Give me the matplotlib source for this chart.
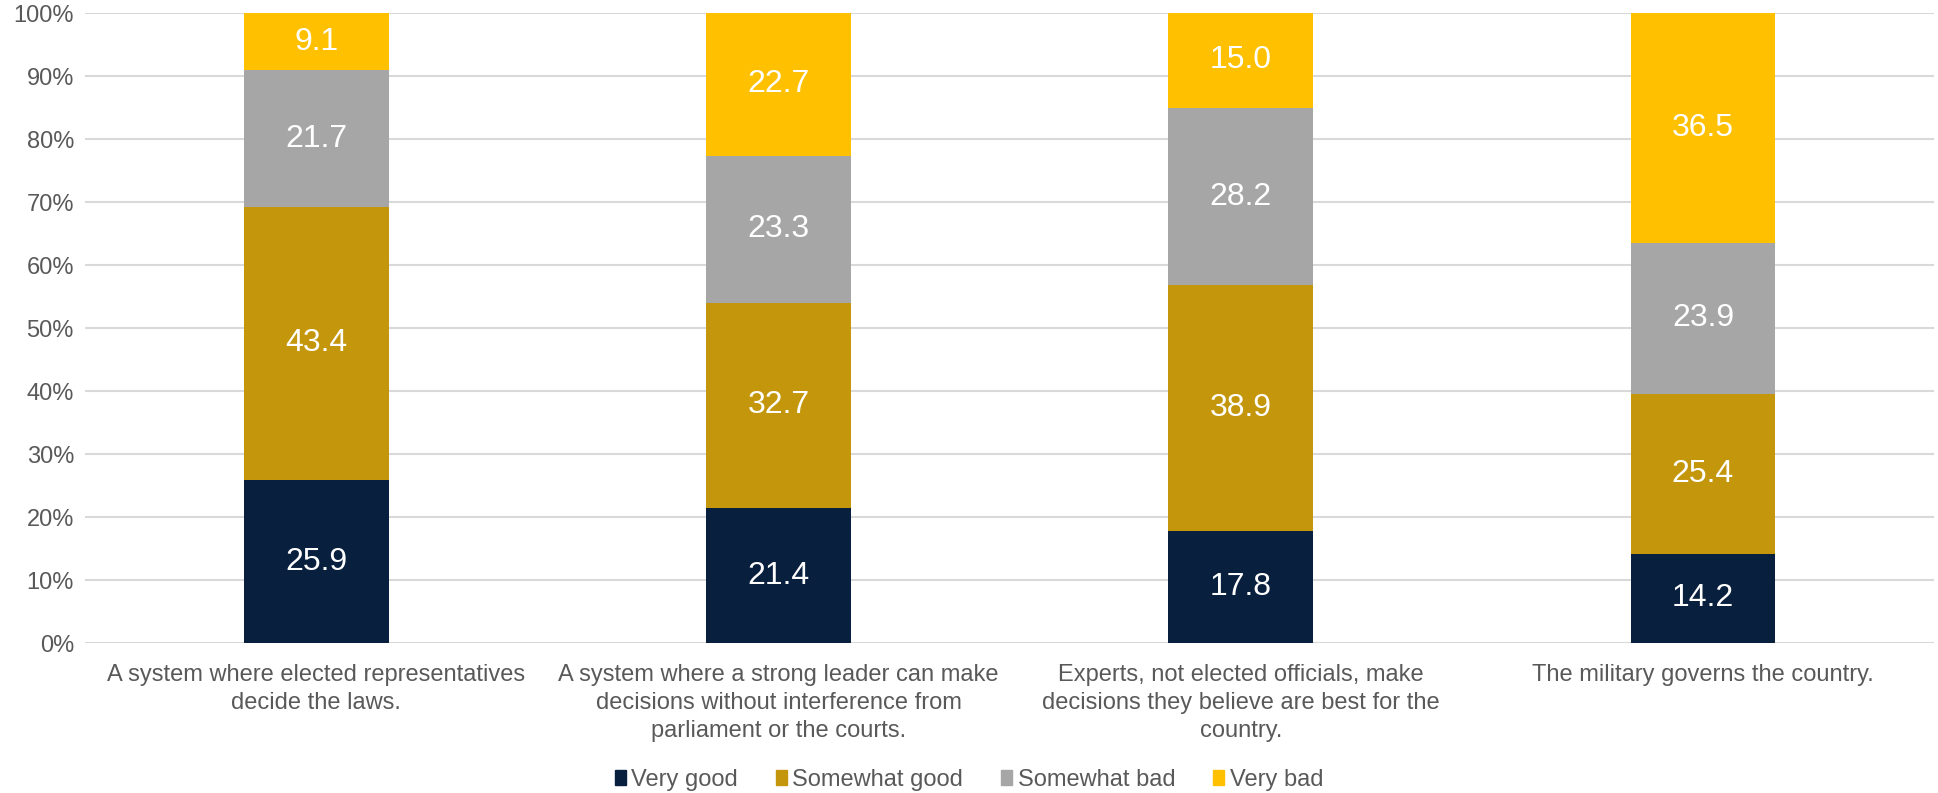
import numpy as np
import matplotlib.pyplot as plt
from matplotlib.patches import Patch

plt.rcParams["font.family"] = ["Liberation Sans", "DejaVu Sans"]

categories = [
    "A system where elected representatives\ndecide the laws.",
    "A system where a strong leader can make\ndecisions without interference from\nparliament or the courts.",
    "Experts, not elected officials, make\ndecisions they believe are best for the\ncountry.",
    "The military governs the country.",
]
series_names = ["Very good", "Somewhat good", "Somewhat bad", "Very bad"]
very_good = [25.9, 21.4, 17.8, 14.2]
somewhat_good = [43.4, 32.7, 38.9, 25.4]
somewhat_bad = [21.7, 23.3, 28.2, 23.9]
very_bad = [9.1, 22.7, 15.0, 36.5]
colors = ["#091F3E", "#C4960C", "#A6A6A6", "#FFC000"]
text_grey = "#595959"


def main():
    values = np.array([very_good, somewhat_good, somewhat_bad, very_bad])
    # 100% stacked: normalise each column
    shares = values / values.sum(axis=0) * 100

    fig = plt.figure(figsize=(19.38, 7.93), dpi=100)
    ax = fig.add_axes([0.0439, 0.189, 0.9541, 0.7946])

    x = np.arange(len(categories))
    bottom = np.zeros(len(categories))
    for i, name in enumerate(series_names):
        ax.bar(x, shares[i], bottom=bottom, width=0.313, color=colors[i],
               label=name, zorder=3)
        for xi, b, h, v in zip(x, bottom, shares[i], values[i]):
            ax.text(xi, b + h / 2, f"{v:.1f}", ha="center", va="center",
                    color="white", fontsize=23, zorder=4)
        bottom += shares[i]

    ax.set_xlim(-0.5, len(categories) - 0.5)
    ax.set_ylim(0, 100)
    ax.set_yticks(np.arange(0, 101, 10))
    ax.set_yticklabels([f"{t}%" for t in range(0, 101, 10)])
    ax.set_xticks(x)
    ax.set_xticklabels(categories, linespacing=1.35)
    ax.tick_params(axis="both", length=0, labelsize=17, colors=text_grey)
    ax.tick_params(axis="x", pad=15)
    ax.tick_params(axis="y", pad=8)
    ax.grid(axis="y", color="#D9D9D9", linewidth=1.5, zorder=0)
    for s in ax.spines.values():
        s.set_visible(False)

    handles = [Patch(color=c) for c in colors]
    leg = fig.legend(handles, series_names, loc="center", ncol=4,
                     bbox_to_anchor=(0.5, 0.016), frameon=False, fontsize=17,
                     handlelength=0.45, handleheight=0.6, handletextpad=0.25,
                     columnspacing=1.6)
    for t in leg.get_texts():
        t.set_color(text_grey)

    fig.savefig("out.png", dpi=100)


if __name__ == "__main__":
    main()
